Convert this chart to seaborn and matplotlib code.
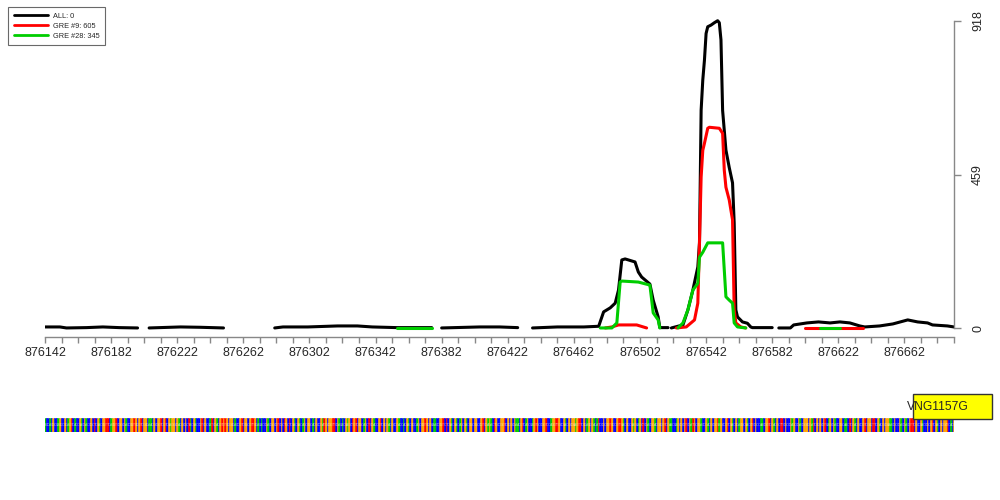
import numpy as np
import pandas as pd
import seaborn as sns
import matplotlib.pyplot as plt
from matplotlib.lines import Line2D
from matplotlib.patches import Rectangle

sns.set_style('white')
plt.rcParams['font.family'] = ['Liberation Sans', 'DejaVu Sans']

# coverage tracks, one list per unbroken segment
all_pos = [
    [876142, 876151, 876155, 876167, 876177, 876187, 876198],
    [876205, 876224, 876236, 876250],
    [876281, 876286, 876301, 876319, 876331, 876340, 876355, 876376],
    [876382, 876405, 876417, 876428],
    [876437, 876452, 876468, 876477, 876480, 876484, 876487, 876489, 876491,
     876493, 876499, 876501, 876503, 876508, 876510, 876513, 876514, 876519],
    [876521, 876528, 876531, 876534, 876537, 876538, 876539, 876540, 876541,
     876542, 876543, 876545, 876547, 876549, 876550, 876551, 876552, 876554,
     876556, 876558, 876559, 876560, 876561, 876564, 876567, 876569, 876570, 876582],
    [876586, 876593, 876595, 876603, 876610, 876617, 876623, 876629, 876635,
     876638, 876647, 876655, 876664, 876670, 876676, 876679, 876688, 876692],
]
all_val = [
    [4, 4, 1, 2, 4, 2, 1],
    [1, 4, 3, 1],
    [1, 4, 4, 7, 7, 4, 2, 2],
    [1, 4, 4, 2],
    [1, 4, 4, 6, 49, 61, 75, 114, 204, 207, 198, 168, 153, 132, 84, 34, 2, 2],
    [1, 10, 55, 114, 183, 255, 651, 741, 800, 880, 900, 905, 912, 918, 912, 861,
     650, 532, 480, 434, 314, 55, 34, 19, 15, 4, 2, 2],
    [1, 1, 10, 16, 19, 16, 19, 16, 7, 4, 7, 13, 25, 19, 16, 10, 7, 4],
]

gre9_pos = [
    [876481, 876485, 876489, 876500, 876504, 876506],
    [876524, 876530, 876535, 876537, 876538, 876539, 876540, 876541, 876543,
     876544, 876550, 876552, 876553, 876554, 876556, 876557, 876558, 876559,
     876560, 876563, 876566],
    [876602, 876637],
]
gre9_val = [
    [1, 4, 10, 10, 4, 1],
    [1, 4, 25, 75, 255, 451, 531, 552, 597, 600, 597, 582, 472, 421, 383, 353,
     324, 55, 16, 4, 1],
    [2, 2],
]

gre28_pos = [
    [876355, 876376],
    [876478, 876485, 876488, 876490, 876491, 876501, 876508, 876510, 876513, 876514],
    [876525, 876528, 876531, 876534, 876537, 876538, 876540, 876543, 876552,
     876554, 876556, 876558, 876559, 876561, 876566],
    [876611, 876623],
]
gre28_val = [
    [2, 2],
    [1, 1, 16, 138, 141, 138, 129, 46, 25, 1],
    [1, 16, 55, 114, 134, 212, 227, 255, 255, 94, 84, 75, 16, 4, 1],
    [2, 2],
]

track_names = ['ALL: 0', 'GRE #9: 605', 'GRE #28: 345']
track_colors = ['black', '#FF0000', '#00CD00']

x_start = 876142
x_end = 876692
y_ticks = [0, 459, 918]

seq = ''.join([
    'ACCACGCCAG', 'CCGCAGTCAC', 'CGACGACCGC', 'TCGACGGTTC', 'AGGTCGGCGA',
    'CCGGTGCGTC', 'GGCAACGCGG', 'TCGTCGAGGC', 'GACGCGCTAC', 'GACCGTCGCC',
    'ATCGACGTGT', 'GCGGCACCGT', 'CGGCGTTGCA', 'CACCGACGGC', 'GTCGCTGCTC',
    'GACGACAGCG', 'GCACGCCGAT', 'GCGGTTCGAC', 'ACGAGCTGTC', 'GGCAGCTCGA',
    'CCGTCGCGAC', 'GCCGACCACG', 'ACGCCAGCGG', 'TGCGCAACCG', 'GTCTCGACGA',
    'CAGCGACGGC', 'GGCCGTCGAG', 'ACTGCCGGTC', 'GCGCGAACGT', 'CAGCCAGTGC',
    'CGGTCCAGGT', 'TGCCGACGCG', 'GAGTTCGCAG', 'CGACATCCGC', 'GGTGCCGTTG',
    'ACGCCGAGCA', 'GCTCGACGGA', 'CGGCGTCGAA', 'CCAGCGCGTC', 'GATGCGGACC',
    'GACGCGGTAG', 'CCGTCGACGC', 'AGGCGACGTC', 'GCCAACGGTC', 'GACGCTTCGC',
    'CGAGCCGACG', 'GGCGATCGCG', 'CGTCAGCGAC', 'CGGCAACTCG', 'ACGCCGTCGG',
    'CTTCGACGCG', 'GAACGCCGAC', 'GACGTTCGCC', 'GACCGCGTCG', 'ACGCGGTCAC', 'G',
])
base_colors = {'A': '#00CD00', 'C': '#0000FF', 'G': '#FFA500', 'T': '#FF0000'}

gene_name = 'VNG1157G'
gene_start = 876667
gene_end = 876715
gene_label_x = 876682

rows = []
for name, plist, vlist in zip(track_names, [all_pos, gre9_pos, gre28_pos],
                              [all_val, gre9_val, gre28_val]):
    for k, (ps, vs) in enumerate(zip(plist, vlist)):
        for p, v in zip(ps, vs):
            rows.append({'track': name, 'seg': k, 'pos': p, 'val': v})
df = pd.DataFrame(rows)

fig = plt.figure(figsize=(10, 5), dpi=100)
ax = fig.add_axes([0.045, 0.326, 0.909, 0.654])

for name, col in zip(track_names, track_colors):
    sns.lineplot(data=df[df.track == name], x='pos', y='val', units='seg',
                 estimator=None, sort=False, color=col, lw=2.2,
                 solid_capstyle='round', ax=ax)

ax.set_xlim(x_start, x_end)
ax.set_ylim(-26, 950)
ax.set_xlabel('')
ax.set_ylabel('')
ax.grid(False)

xt = list(range(x_start, x_end + 1, 10))
ax.set_xticks(xt)
ax.set_xticklabels([str(t) if (t - x_start) % 40 == 0 else '' for t in xt])
ax.set_yticks(y_ticks)
ax.set_yticklabels([str(t) for t in y_ticks])

for s in ['top', 'left']:
    ax.spines[s].set_visible(False)
for s in ['bottom', 'right']:
    ax.spines[s].set_visible(True)
    ax.spines[s].set_color('#888888')
    ax.spines[s].set_linewidth(1)
ax.spines['bottom'].set_bounds(x_start, x_end)
ax.spines['right'].set_bounds(0, 918)

ax.tick_params(axis='x', bottom=True, direction='out', length=4.5, width=1,
               color='#888888', labelsize=9, pad=3)
ax.tick_params(axis='y', left=False, right=True, labelleft=False, labelright=True,
               direction='out', length=5, width=1, color='#888888',
               labelsize=9, pad=8, labelrotation=90)
for lab in ax.get_yticklabels():
    lab.set_va('center')

handles = [Line2D([], [], color=c, lw=2) for c in track_colors]
leg = fig.legend(handles, track_names, loc='upper left',
                 bbox_to_anchor=(0.008, 0.986), bbox_transform=fig.transFigure,
                 fontsize=5.3, frameon=True, fancybox=False, edgecolor='#444444',
                 borderpad=0.8, handlelength=4.6, handletextpad=0.7,
                 labelspacing=0.35, borderaxespad=0)
leg.get_frame().set_linewidth(0.8)

# sequence track and gene annotation
ax2 = fig.add_axes([0.045, 0.136, 0.909, 0.076])
ax2.set_xlim(x_start, x_end)
ax2.set_ylim(0, 38)
ax2.axis('off')
seq_pos = np.arange(x_start, x_start + len(seq))
seq_cols = [base_colors[b] for b in seq]
ax2.bar(seq_pos, 14, width=1, bottom=0, color=seq_cols, edgecolor=seq_cols,
        linewidth=0.4)
for p, b in zip(seq_pos, seq):
    ax2.text(p, 7, b, fontsize=2.4, color='white', alpha=0.6, ha='center', va='center')

ax2.add_patch(Rectangle((gene_start, 13), gene_end - gene_start, 25,
                        facecolor='#FFFF00', edgecolor='#333333', lw=1, clip_on=False))
ax2.text(gene_label_x, 25.5, gene_name, fontsize=8.7, ha='center', va='center',
         clip_on=False)

fig.savefig('out.png', dpi=100)
